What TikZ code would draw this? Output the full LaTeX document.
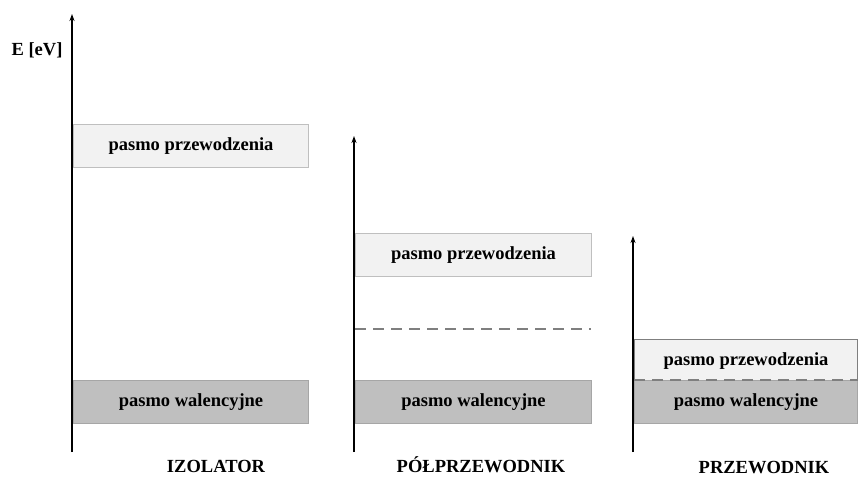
\documentclass[tikz,border=0pt]{standalone}
\usepackage{fontspec}
\setmainfont{Liberation Serif}
\usetikzlibrary{arrows.meta}
\definecolor{cbfill}{HTML}{F2F2F2}
\definecolor{cbdraw}{HTML}{BFBFBF}
\definecolor{vbfill}{HTML}{BFBFBF}
\definecolor{vbdraw}{HTML}{A6A6A6}
\definecolor{dashc}{HTML}{7F7F7F}
\begin{document}
\begin{tikzpicture}[x=1pt,y=-1pt,
  every node/.style={font=\fontsize{18.5}{20}\selectfont\bfseries, inner sep=0pt},
  cband/.style={draw=cbdraw, fill=cbfill, line width=1pt, anchor=north west, minimum height=43pt},
  vband/.style={draw=vbdraw, fill=vbfill, line width=1pt, anchor=north west, minimum height=43pt},
  eaxis/.style={line width=2pt, -{Stealth[length=7pt,width=5pt]}},
  gapline/.style={draw=dashc, line width=1.5pt, dash pattern=on 11pt off 7pt},
  caption/.style={anchor=base}
]
\useasboundingbox (0,0) rectangle (858,476);
% Izolator
\node[cband, minimum width=235pt] (ic) at (73,124) {};
\node at (ic.center) {pasmo przewodzenia};
\node[vband, minimum width=235pt] (iv) at (73,380) {};
\node at (iv.center) {pasmo walencyjne};
\coordinate (ia0) at (72,452);
\coordinate (ia1) at (72,14);
\draw[eaxis] (ia0) -- (ia1);
\node (elab) at (37,50) {E [eV]};
\node[caption] (izo) at (216,472) {IZOLATOR};
% Polprzewodnik
\node[cband, minimum width=236pt] (pc) at (355,233) {};
\node at (pc.center) {pasmo przewodzenia};
\coordinate (pd0) at (355,329);
\coordinate (pd1) at (591,329);
\draw[gapline] (pd0) -- (pd1);
\node[vband, minimum width=236pt] (pv) at (355,380) {};
\node at (pv.center) {pasmo walencyjne};
\coordinate (pa0) at (354,452);
\coordinate (pa1) at (354,136);
\draw[eaxis] (pa0) -- (pa1);
\node[caption] (pol) at (481,472) {PÓŁPRZEWODNIK};
% Przewodnik
\node[cband, minimum width=223pt, draw=dashc] (nc) at (634,339) {};
\node at (nc.center) {pasmo przewodzenia};
\node[vband, minimum width=223pt] (nv) at (634,380) {};
\node at (nv.center) {pasmo walencyjne};
\draw[gapline] (nv.north west) -- (nv.north east);
\coordinate (na0) at (633,452);
\coordinate (na1) at (633,236);
\draw[eaxis] (na0) -- (na1);
\node[caption] (prz) at (764,473) {PRZEWODNIK};
\end{tikzpicture}
\end{document}
